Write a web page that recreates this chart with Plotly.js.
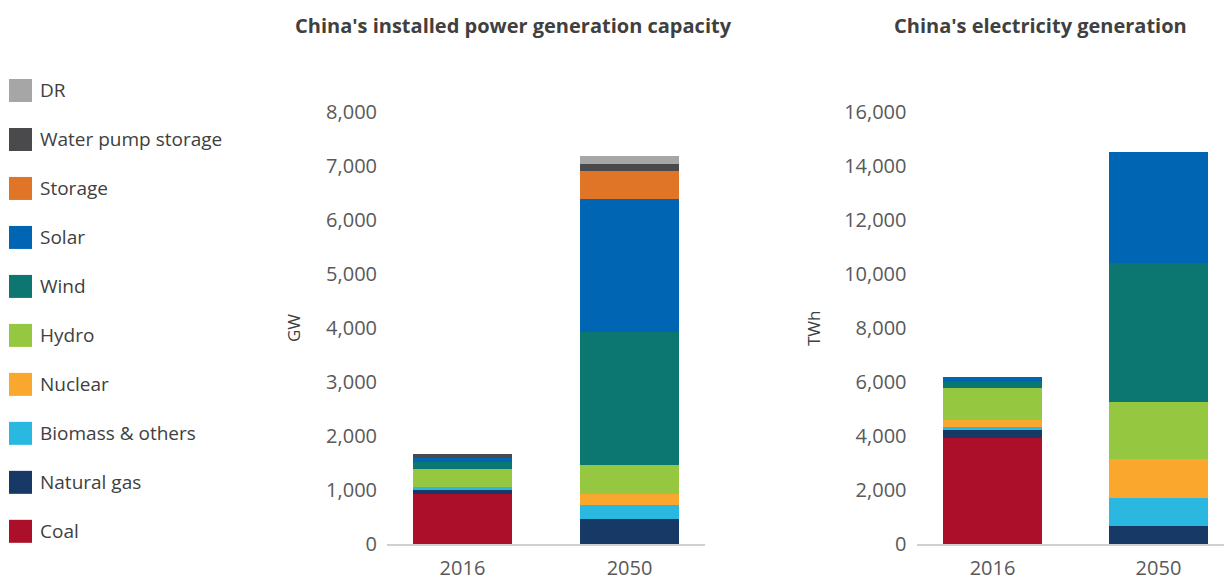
<!DOCTYPE html>
<html>
<head>
<meta charset="utf-8">
<script src="https://cdn.plot.ly/plotly-3.0.1.min.js"></script>
<style>
  body { margin: 0; background: #fff; }
  #chart { width: 1224px; height: 579px; }
</style>
</head>
<body>
<div id="chart"></div>
<script>
// Годы
const years = ["2016", "2050"];

// Источники (снизу вверх) и цвета
const sources = ["Coal", "Natural gas", "Biomass & others", "Nuclear", "Hydro",
                 "Wind", "Solar", "Storage", "Water pump storage", "DR"];
const colors = ["#ab0f2a", "#163966", "#2bb8e0", "#f9a72d", "#95c840",
                "#0b7770", "#0066b3", "#e07427", "#4a4a4c", "#a6a6a6"];

// Установленная мощность, GW
const capacity2016 = [926, 74, 50, 0, 340, 130, 74, 0, 74, 0];
const capacity2050 = [0, 463, 259, 210, 531, 2463, 2463, 519, 130, 148];

// Выработка электроэнергии, TWh
const generation2016 = [3926, 296, 100, 270, 1185, 233, 173, 0, 0, 0];
const generation2050 = [0, 667, 1049, 1432, 2111, 5136, 4123, 0, 0, 0];

const capTicks = [0, 1000, 2000, 3000, 4000, 5000, 6000, 7000, 8000];
const genTicks = [0, 2000, 4000, 6000, 8000, 10000, 12000, 14000, 16000];

const FONT = "Open Sans, sans-serif";
const W = 1224, TOP = 112, BOTTOM = 544;
const px = (x) => x / W;
const py = (y) => (BOTTOM - y) / (BOTTOM - TOP);

let traces = [];
sources.forEach((name, i) => {
    traces.push({
        type: 'bar', name: name, x: years, y: [capacity2016[i], capacity2050[i]],
        marker: { color: colors[i] }, width: 0.593, xaxis: 'x', yaxis: 'y',
        showlegend: false, hoverinfo: 'name+y'
    });
    traces.push({
        type: 'bar', name: name, x: years, y: [generation2016[i], generation2050[i]],
        marker: { color: colors[i] }, width: 0.596, xaxis: 'x2', yaxis: 'y2',
        showlegend: false, hoverinfo: 'name+y'
    });
});

const tickFont = { family: FONT, size: 20, color: "#595959" };

function yAxis(ticks, anchor) {
    return {
        domain: [0, 1], range: [0, ticks[ticks.length - 1]], tickvals: ticks,
        ticktext: ticks.map(v => v.toLocaleString('en-US')),
        showgrid: false, zeroline: false, showline: false, ticks: '',
        ticklabelstandoff: 9, tickfont: tickFont, anchor: anchor, fixedrange: true
    };
}
function xAxis(domain, range, anchor) {
    return {
        domain: domain, range: range, type: 'category', showgrid: false,
        showline: true, linecolor: "#d0d0d0", linewidth: 2, ticks: '',
        ticklabelstandoff: 5, tickfont: tickFont, anchor: anchor, fixedrange: true
    };
}

const titleFont = { family: FONT, size: 20, color: "#404040" };
let shapes = [];
let annotations = [
    { text: "<b>China's installed power generation capacity</b>", x: px(513), y: py(25),
      xanchor: 'center', yanchor: 'middle',
      xref: 'paper', yref: 'paper', showarrow: false, font: titleFont },
    { text: "<b>China's electricity generation</b>", x: px(1040), y: py(25),
      xanchor: 'center', yanchor: 'middle',
      xref: 'paper', yref: 'paper', showarrow: false, font: titleFont },
    { text: "GW", x: px(293), y: py(328), xref: 'paper', yref: 'paper', showarrow: false,
      xanchor: 'center', yanchor: 'middle',
      textangle: -90, font: { family: FONT, size: 17, color: "#404040" } },
    { text: "TWh", x: px(813), y: py(328), xref: 'paper', yref: 'paper', showarrow: false,
      xanchor: 'center', yanchor: 'middle',
      textangle: -90, font: { family: FONT, size: 17, color: "#404040" } }
];

// Легенда слева: сверху вниз (DR ... Coal)
for (let k = 0; k < sources.length; k++) {
    let i = sources.length - 1 - k;
    let cy = 90.5 + k * 48.98;
    shapes.push({
        type: 'rect', xref: 'paper', yref: 'paper',
        x0: px(9), x1: px(32), y0: py(cy + 11.5), y1: py(cy - 11.5),
        fillcolor: colors[i], line: { width: 0 }
    });
    annotations.push({
        text: sources[i], x: px(38), y: py(cy), xref: 'paper', yref: 'paper',
        xanchor: 'left', yanchor: 'middle', showarrow: false,
        font: { family: FONT, size: 19, color: "#404040" }
    });
}

let layout = {
    width: 1224, height: 579,
    margin: { l: 0, r: 0, t: TOP, b: 579 - BOTTOM },
    barmode: 'stack', showlegend: false,
    paper_bgcolor: '#fff', plot_bgcolor: '#fff',
    xaxis: xAxis([px(387), px(705)], [-0.452, 1.452], 'y'),
    yaxis: yAxis(capTicks, 'x'),
    xaxis2: xAxis([px(916.5), 1], [-0.458, 1.395], 'y2'),
    yaxis2: yAxis(genTicks, 'x2'),
    shapes: shapes, annotations: annotations
};

Plotly.newPlot('chart', traces, layout, { displayModeBar: false, staticPlot: true });
</script>
</body>
</html>
